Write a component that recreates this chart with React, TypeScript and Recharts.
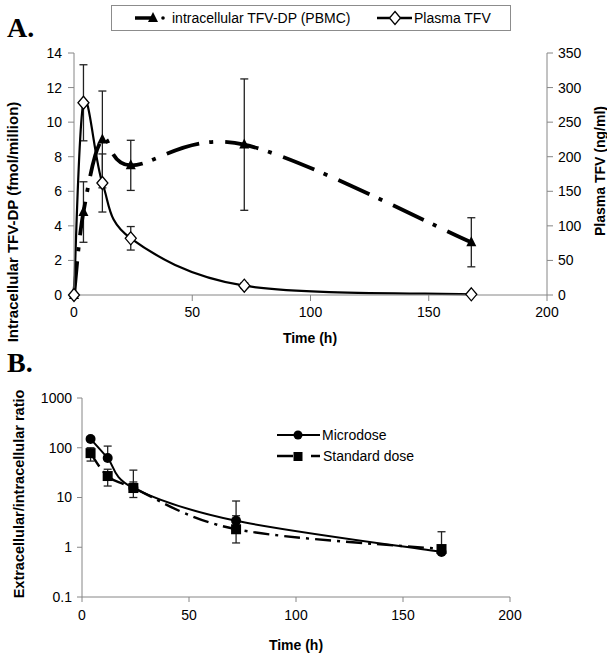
import React from "react";
import { ComposedChart, Line, XAxis, YAxis, ErrorBar, Legend, Label } from "recharts";

// Panel A: intracellular TFV-DP (left axis) and plasma TFV (right axis)
const hoursA = [0, 4, 12, 24, 72, 168];
const tfvDp = [0, 4.8, 9.0, 7.5, 8.7, 3.05];
const tfvDpSd = [0, 1.75, 2.8, 1.45, 3.8, 1.42];
const plasmaTfv = [0, 278, 162, 82, 13.5, 1];
const plasmaTfvSd = [0, 55, 42, 17, 4, 0];

// Panel B: extracellular/intracellular ratio
const hoursB = [4, 12, 24, 72, 168];
const microdose = [150, 62, 15.5, 3.4, 0.8];
const microdoseErrUp = [15, 46, 20, 5.1, 0];
const standardDose = [78, 27, 15.5, 2.3, 0.92];
const standardDoseErrDown = [24, 10, 5.5, 1.08, 0];
const standardDoseErrUp = [22, 10, 5, 2, 1.13];

const timeTicksA = [0, 50, 100, 150, 200];
const timeTicksB = [0, 50, 100, 150, 200];
const leftTicksA = [0, 2, 4, 6, 8, 10, 12, 14];
const rightTicksA = [0, 50, 100, 150, 200, 250, 300, 350];
const ratioTicksB = [0.1, 1, 10, 100, 1000];

const rowsA = hoursA.map((h, i) => ({
  h,
  dp: tfvDp[i],
  dpSd: tfvDpSd[i],
  pl: plasmaTfv[i],
  plSd: plasmaTfvSd[i],
}));

const rowsB = hoursB.map((h, i) => ({
  h,
  micro: microdose[i],
  microErr: [0, microdoseErrUp[i]],
  std: standardDose[i],
  stdErr: [standardDoseErrDown[i], standardDoseErrUp[i]],
}));

const FONT = "'Liberation Sans', Arial, sans-serif";
const AXIS = "#868686";
const tick = { fill: "#000", fontSize: 14, fontFamily: FONT };

// Excel-like smoothed line (Catmull-Rom through the points)
const smooth = (context: any) => {
  let pts: number[][] = [];
  return {
    areaStart() {},
    areaEnd() {},
    lineStart() {
      pts = [];
    },
    lineEnd() {
      const n = pts.length;
      if (!n) return;
      context.moveTo(pts[0][0], pts[0][1]);
      for (let i = 0; i < n - 1; i++) {
        const p0 = pts[Math.max(i - 1, 0)];
        const p1 = pts[i];
        const p2 = pts[i + 1];
        const p3 = pts[Math.min(i + 2, n - 1)];
        context.bezierCurveTo(
          p1[0] + (p2[0] - p0[0]) / 6,
          p1[1] + (p2[1] - p0[1]) / 6,
          p2[0] - (p3[0] - p1[0]) / 6,
          p2[1] - (p3[1] - p1[1]) / 6,
          p2[0],
          p2[1]
        );
      }
    },
    point(x: number, y: number) {
      pts.push([+x, +y]);
    },
  };
};

const triPath = (x: number, y: number) => `M${x},${y - 6}L${x + 5},${y + 4}L${x - 5},${y + 4}Z`;
const diaPath = (x: number, y: number) => `M${x},${y - 6.5}L${x + 5.5},${y}L${x},${y + 6.5}L${x - 5.5},${y}Z`;

const Triangle = (p: any) => <path key={`tri-${p.index}`} d={triPath(p.cx, p.cy)} fill="#000" />;
const Diamond = (p: any) => (
  <path key={`dia-${p.index}`} d={diaPath(p.cx, p.cy)} fill="#fff" stroke="#000" strokeWidth={1.3} />
);
const Dot = (p: any) => <circle key={`dot-${p.index}`} cx={p.cx} cy={p.cy} r={5} fill="#000" />;
const Square = (p: any) => <rect key={`sq-${p.index}`} x={p.cx - 5} y={p.cy - 5} width={10} height={10} fill="#000" />;

const title = (text: string, x: number, y: number, angle = 0, size = 14) => () =>
  (
    <text
      x={x}
      y={y}
      transform={angle ? `rotate(${angle} ${x} ${y})` : undefined}
      textAnchor="middle"
      dominantBaseline="central"
      fontFamily={FONT}
      fontWeight="bold"
      fontSize={size}
      fill="#000"
    >
      {text}
    </text>
  );

const LegendA = () => (
  <svg width={400} height={26} style={{ display: "block" }}>
    <rect x={0.5} y={0.5} width={399} height={25} fill="#fff" stroke="#8c8c8c" />
    <line x1={24} x2={42} y1={13} y2={13} stroke="#000" strokeWidth={3.5} />
    <path d={triPath(42, 13)} fill="#000" />
    <circle cx={52} cy={13} r={1.8} fill="#000" />
    <text x={61} y={13} dominantBaseline="central" fontFamily={FONT} fontSize={14} fill="#000">
      intracellular TFV-DP (PBMC)
    </text>
    <line x1={266} x2={301} y1={13} y2={13} stroke="#000" strokeWidth={2.5} />
    <path d={diaPath(284, 13)} fill="#fff" stroke="#000" strokeWidth={1.3} />
    <text x={303} y={13} dominantBaseline="central" fontFamily={FONT} fontSize={14} fill="#000">
      Plasma TFV
    </text>
  </svg>
);

const LegendB = () => (
  <svg width={150} height={45} style={{ display: "block" }}>
    <line x1={7} x2={50} y1={10} y2={10} stroke="#000" strokeWidth={2} />
    <circle cx={28} cy={10} r={4.5} fill="#000" />
    <text x={52} y={10} dominantBaseline="central" fontFamily={FONT} fontSize={14} fill="#000">
      Microdose
    </text>
    <line x1={7} x2={23} y1={31} y2={31} stroke="#000" strokeWidth={2.5} />
    <rect x={23.5} y={27} width={9} height={9} fill="#000" />
    <line x1={41} x2={50} y1={31} y2={31} stroke="#000" strokeWidth={2.5} />
    <text x={53} y={31} dominantBaseline="central" fontFamily={FONT} fontSize={14} fill="#000">
      Standard dose
    </text>
  </svg>
);

const panelLetter = (text: string, top: number) => (
  <div
    style={{
      position: "absolute",
      left: 7,
      top,
      fontFamily: "'Liberation Serif', 'Times New Roman', serif",
      fontWeight: "bold",
      fontSize: 28,
      lineHeight: "28px",
      color: "#000",
    }}
  >
    {text}
  </div>
);

export default function App() {
  return (
    <div style={{ position: "absolute", left: 0, top: 0, width: 607, height: 660, background: "#fff", overflow: "hidden" }}>
      {panelLetter("A.", 14)}
      {panelLetter("B.", 349)}

      <div style={{ position: "absolute", left: 0, top: 0 }}>
        <ComposedChart width={607} height={350} data={rowsA} margin={{ top: 53, right: 0, bottom: 15, left: 0 }}>
          <XAxis
            dataKey="h"
            type="number"
            domain={[0, 200]}
            ticks={timeTicksA}
            stroke={AXIS}
            tick={tick}
            tickSize={6}
            tickMargin={6}
            height={40}
          >
            <Label content={title("Time (h)", 310, 338)} />
          </XAxis>
          <YAxis
            yAxisId="left"
            type="number"
            domain={[0, 14]}
            ticks={leftTicksA}
            stroke={AXIS}
            tick={tick}
            tickSize={6}
            tickMargin={6}
            width={74}
          >
            <Label content={title("Intracellular TFV-DP (fmol/million)", 12, 222, -90, 15)} />
          </YAxis>
          <YAxis
            yAxisId="right"
            orientation="right"
            type="number"
            domain={[0, 350]}
            ticks={rightTicksA}
            stroke={AXIS}
            tick={tick}
            tickSize={6}
            tickMargin={5}
            width={60}
          >
            <Label content={title("Plasma TFV (ng/ml)", 600, 171, -90)} />
          </YAxis>
          <Legend
            layout="vertical"
            verticalAlign="middle"
            align="center"
            content={() => <LegendA />}
            wrapperStyle={{ position: "absolute", top: 5, left: 111, width: 400, height: 26 }}
          />
          <Line
            yAxisId="left"
            dataKey="dp"
            type={smooth as any}
            stroke="#000"
            strokeWidth={3.8}
            strokeDasharray="34 10 4 12"
            dot={Triangle}
            activeDot={false}
            isAnimationActive={false}
            legendType="none"
          >
            <ErrorBar dataKey="dpSd" width={4} stroke="#222" strokeWidth={1.3} />
          </Line>
          <Line
            yAxisId="right"
            dataKey="pl"
            type={smooth as any}
            stroke="#000"
            strokeWidth={2.2}
            dot={Diamond}
            activeDot={false}
            isAnimationActive={false}
            legendType="none"
          >
            <ErrorBar dataKey="plSd" width={4} stroke="#222" strokeWidth={1.3} />
          </Line>
        </ComposedChart>
      </div>

      <div style={{ position: "absolute", left: 0, top: 350 }}>
        <ComposedChart width={607} height={310} data={rowsB} margin={{ top: 48, right: 97, bottom: 13, left: 0 }}>
          <XAxis
            dataKey="h"
            type="number"
            domain={[0, 200]}
            ticks={timeTicksB}
            stroke={AXIS}
            tick={tick}
            tickSize={5}
            tickMargin={8}
            height={50}
          >
            <Label content={title("Time (h)", 296, 295)} />
          </XAxis>
          <YAxis
            type="number"
            scale="log"
            domain={[0.1, 1000]}
            ticks={ratioTicksB}
            allowDataOverflow
            stroke={AXIS}
            tick={tick}
            tickFormatter={(v: number) => (v < 1 ? String(v) : v.toFixed(0))}
            tickSize={5}
            tickMargin={5}
            width={82}
          >
            <Label content={title("Extracellular/intracellular ratio", 19, 144, -90, 14.5)} />
          </YAxis>
          <Legend
            layout="vertical"
            verticalAlign="middle"
            align="center"
            content={() => <LegendB />}
            wrapperStyle={{ position: "absolute", top: 75, left: 270, width: 150, height: 45 }}
          />
          <Line
            dataKey="std"
            type={smooth as any}
            stroke="#000"
            strokeWidth={2.4}
            strokeDasharray="16 6 3 6"
            dot={Square}
            activeDot={false}
            isAnimationActive={false}
            legendType="none"
          >
            <ErrorBar dataKey="stdErr" width={4} stroke="#222" strokeWidth={1.3} />
          </Line>
          <Line
            dataKey="micro"
            type={smooth as any}
            stroke="#000"
            strokeWidth={2}
            dot={Dot}
            activeDot={false}
            isAnimationActive={false}
            legendType="none"
          >
            <ErrorBar dataKey="microErr" width={4} stroke="#222" strokeWidth={1.3} />
          </Line>
        </ComposedChart>
      </div>
    </div>
  );
}
